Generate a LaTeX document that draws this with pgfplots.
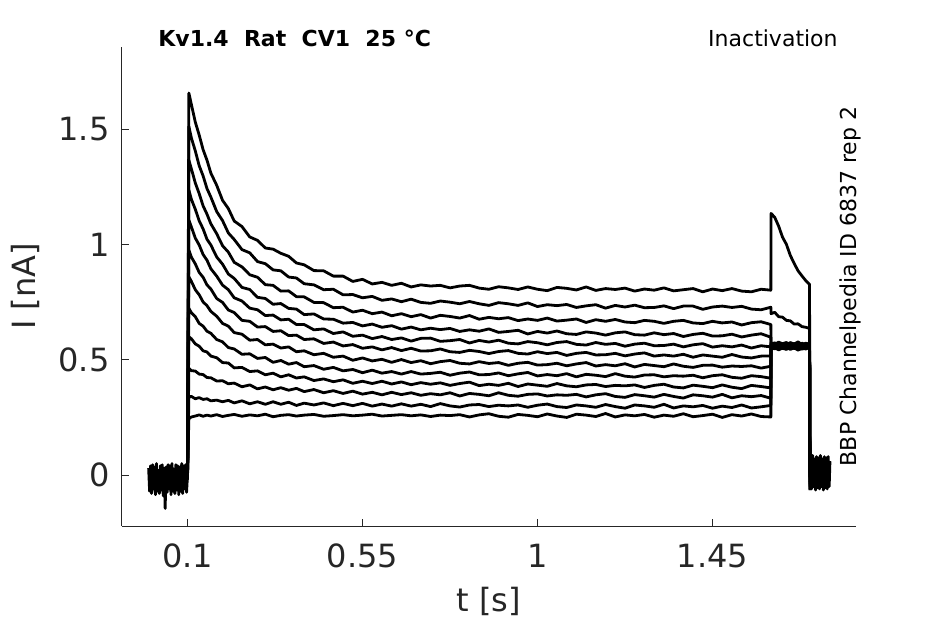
\documentclass[border=0pt]{standalone}
\usepackage{fontspec}
\setmainfont{DejaVu Sans}
\usepackage{pgfplots}
\usepackage{pgfplotstable}
\pgfplotsset{compat=1.18}
\definecolor{axgray}{HTML}{262626}
\pgfplotsset{tr/.style={black, mark=none, line width=1.4pt, line join=round}}

\pgfplotstableread{
t y1 y2 y3 y4 y5 y6 y7 y8 y9 y10 y11 y12
0.1000 0.010 -0.020 0.000 0.020 -0.010 0.000 0.010 -0.020 0.020 0.000 -0.010 0.010
0.1035 1.657 1.512 1.366 1.236 1.106 0.976 0.860 0.723 0.600 0.463 0.340 0.245
0.110 1.607 1.462 1.328 1.196 1.076 0.945 0.840 0.704 0.591 0.453 0.341 0.252
0.120 1.531 1.406 1.267 1.153 1.028 0.916 0.804 0.687 0.569 0.451 0.331 0.256
0.130 1.475 1.342 1.221 1.103 0.998 0.879 0.782 0.658 0.559 0.438 0.336 0.261
0.140 1.412 1.298 1.168 1.068 0.957 0.858 0.751 0.646 0.539 0.436 0.328 0.255
0.150 1.366 1.243 1.132 1.023 0.932 0.825 0.735 0.624 0.534 0.423 0.331 0.260
0.160 1.310 1.206 1.090 0.998 0.895 0.807 0.710 0.615 0.516 0.422 0.322 0.256
0.175 1.257 1.143 1.047 0.946 0.863 0.766 0.689 0.588 0.509 0.408 0.325 0.262
0.190 1.192 1.104 0.995 0.915 0.824 0.749 0.658 0.578 0.488 0.409 0.318 0.254
0.205 1.156 1.050 0.967 0.872 0.804 0.716 0.646 0.553 0.486 0.396 0.324 0.259
0.220 1.102 1.022 0.923 0.853 0.769 0.705 0.618 0.547 0.465 0.399 0.313 0.263
0.240 1.078 0.978 0.903 0.814 0.755 0.671 0.611 0.524 0.467 0.383 0.322 0.255
0.260 1.033 0.964 0.869 0.805 0.724 0.667 0.585 0.526 0.449 0.391 0.309 0.261
0.280 1.018 0.926 0.858 0.771 0.717 0.642 0.588 0.506 0.452 0.374 0.318 0.257
0.300 0.985 0.917 0.826 0.766 0.692 0.644 0.565 0.510 0.435 0.382 0.307 0.264
0.320 0.980 0.890 0.823 0.741 0.694 0.623 0.568 0.489 0.442 0.370 0.318 0.253
0.340 0.962 0.886 0.798 0.744 0.673 0.626 0.551 0.497 0.426 0.379 0.307 0.259
0.360 0.949 0.859 0.799 0.723 0.676 0.605 0.556 0.481 0.435 0.368 0.316 0.262
0.380 0.920 0.855 0.774 0.720 0.653 0.607 0.535 0.488 0.421 0.376 0.302 0.256
0.400 0.912 0.830 0.773 0.696 0.653 0.588 0.539 0.470 0.426 0.362 0.312 0.260
0.425 0.887 0.825 0.749 0.699 0.630 0.591 0.522 0.475 0.410 0.371 0.304 0.263
0.450 0.886 0.804 0.748 0.677 0.634 0.571 0.528 0.459 0.417 0.357 0.313 0.255
0.475 0.863 0.806 0.726 0.676 0.614 0.577 0.511 0.467 0.405 0.366 0.301 0.258
0.500 0.863 0.782 0.728 0.659 0.621 0.560 0.516 0.452 0.413 0.354 0.311 0.262
0.525 0.840 0.783 0.707 0.662 0.602 0.566 0.498 0.458 0.398 0.364 0.301 0.257
0.550 0.849 0.769 0.715 0.647 0.607 0.550 0.508 0.444 0.407 0.351 0.311 0.260
0.575 0.829 0.775 0.700 0.655 0.592 0.556 0.495 0.455 0.397 0.359 0.299 0.264
0.600 0.836 0.758 0.707 0.641 0.601 0.543 0.502 0.442 0.407 0.348 0.308 0.256
0.625 0.823 0.764 0.691 0.648 0.588 0.553 0.489 0.449 0.395 0.359 0.299 0.259
0.650 0.832 0.752 0.700 0.633 0.595 0.540 0.501 0.438 0.404 0.349 0.309 0.262
0.675 0.816 0.763 0.687 0.642 0.581 0.550 0.488 0.449 0.392 0.357 0.299 0.257
0.700 0.825 0.749 0.696 0.630 0.593 0.538 0.496 0.438 0.401 0.346 0.307 0.261
0.725 0.820 0.745 0.681 0.637 0.594 0.539 0.483 0.441 0.394 0.353 0.297 0.254
0.750 0.823 0.755 0.693 0.631 0.580 0.547 0.492 0.446 0.400 0.348 0.310 0.260
0.775 0.812 0.750 0.688 0.636 0.583 0.535 0.497 0.433 0.389 0.357 0.300 0.258
0.800 0.820 0.743 0.681 0.623 0.588 0.532 0.485 0.442 0.397 0.343 0.295 0.262
0.825 0.823 0.753 0.692 0.630 0.573 0.541 0.482 0.447 0.403 0.354 0.304 0.252
0.850 0.811 0.743 0.676 0.624 0.584 0.536 0.492 0.435 0.388 0.350 0.306 0.261
0.875 0.806 0.736 0.684 0.634 0.577 0.527 0.484 0.436 0.394 0.344 0.297 0.266
0.900 0.817 0.748 0.678 0.619 0.585 0.536 0.488 0.443 0.389 0.357 0.303 0.255
0.925 0.812 0.743 0.683 0.623 0.572 0.540 0.476 0.431 0.398 0.346 0.300 0.251
0.950 0.805 0.736 0.670 0.628 0.569 0.528 0.485 0.439 0.384 0.342 0.304 0.263
0.975 0.816 0.747 0.677 0.612 0.579 0.525 0.489 0.445 0.395 0.350 0.294 0.259
1.000 0.806 0.731 0.671 0.623 0.574 0.535 0.477 0.430 0.390 0.352 0.303 0.253
1.025 0.800 0.739 0.681 0.616 0.565 0.527 0.479 0.436 0.385 0.343 0.308 0.265
1.050 0.814 0.735 0.668 0.625 0.575 0.532 0.485 0.431 0.397 0.348 0.297 0.256
1.075 0.810 0.740 0.672 0.613 0.579 0.519 0.474 0.440 0.387 0.346 0.293 0.250
1.100 0.803 0.727 0.677 0.610 0.567 0.528 0.482 0.426 0.383 0.350 0.304 0.264
1.125 0.816 0.734 0.662 0.621 0.564 0.532 0.488 0.437 0.391 0.339 0.300 0.260
1.150 0.801 0.739 0.674 0.616 0.575 0.521 0.473 0.433 0.393 0.348 0.294 0.254
1.175 0.809 0.724 0.667 0.607 0.567 0.522 0.479 0.427 0.384 0.353 0.306 0.267
1.200 0.805 0.736 0.675 0.617 0.571 0.528 0.474 0.440 0.389 0.341 0.297 0.252
1.225 0.811 0.729 0.664 0.621 0.559 0.517 0.483 0.429 0.387 0.337 0.290 0.261
1.250 0.798 0.737 0.661 0.609 0.568 0.525 0.469 0.425 0.391 0.349 0.304 0.257
1.275 0.807 0.726 0.671 0.607 0.572 0.530 0.480 0.434 0.380 0.344 0.300 0.263
1.300 0.802 0.727 0.667 0.617 0.561 0.516 0.475 0.435 0.389 0.338 0.294 0.251
1.325 0.812 0.734 0.658 0.609 0.562 0.521 0.470 0.426 0.394 0.350 0.307 0.260
1.350 0.799 0.722 0.667 0.614 0.568 0.516 0.482 0.431 0.382 0.341 0.291 0.255
1.375 0.804 0.733 0.671 0.601 0.556 0.524 0.472 0.429 0.378 0.334 0.300 0.266
1.400 0.809 0.733 0.660 0.610 0.565 0.511 0.467 0.433 0.390 0.348 0.296 0.253
1.425 0.795 0.719 0.657 0.615 0.570 0.521 0.476 0.422 0.385 0.344 0.302 0.258
1.450 0.807 0.729 0.667 0.603 0.555 0.516 0.477 0.431 0.379 0.338 0.290 0.264
1.475 0.800 0.733 0.660 0.604 0.561 0.511 0.468 0.435 0.391 0.350 0.299 0.250
1.500 0.809 0.727 0.664 0.611 0.556 0.523 0.473 0.424 0.381 0.335 0.293 0.262
1.525 0.798 0.732 0.651 0.599 0.564 0.512 0.471 0.420 0.375 0.344 0.304 0.256
1.550 0.795 0.720 0.661 0.607 0.551 0.508 0.474 0.431 0.389 0.340 0.291 0.265
1.575 0.806 0.717 0.665 0.613 0.561 0.516 0.464 0.427 0.384 0.345 0.296 0.254
1.600 0.802 0.728 0.653 0.598 0.556 0.517 0.472 0.420 0.378 0.333 0.302 0.252
1.6005 1.135 0.700 0.566 0.555 0.560 0.552 0.574 0.546 0.563 0.568 0.551 0.565
1.610 1.118 0.706 0.574 0.547 0.568 0.561 0.566 0.553 0.556 0.561 0.559 0.557
1.620 1.080 0.687 0.561 0.558 0.557 0.554 0.577 0.543 0.565 0.570 0.548 0.563
1.630 1.032 0.685 0.570 0.550 0.566 0.549 0.569 0.551 0.559 0.563 0.557 0.568
1.640 1.001 0.671 0.575 0.545 0.559 0.562 0.563 0.556 0.552 0.571 0.550 0.555
1.650 0.953 0.669 0.563 0.556 0.570 0.553 0.575 0.545 0.566 0.559 0.561 0.562
1.660 0.918 0.655 0.569 0.549 0.558 0.560 0.568 0.552 0.557 0.567 0.553 0.570
1.670 0.886 0.656 0.560 0.557 0.564 0.551 0.578 0.542 0.562 0.572 0.547 0.558
1.680 0.864 0.644 0.572 0.546 0.569 0.558 0.565 0.550 0.555 0.560 0.558 0.564
1.690 0.843 0.641 0.566 0.553 0.556 0.563 0.572 0.547 0.568 0.566 0.552 0.559
1.6995 0.827 0.636 0.571 0.550 0.562 0.555 0.567 0.554 0.558 0.569 0.556 0.560
1.7005 -0.065 -0.020 0.030 -0.040 0.050 -0.030 0.060 -0.050 0.020 -0.060 0.040 -0.010
}\pulse

\pgfplotstableread{
t y
0.0000 0.030
0.0025 -0.070
0.0050 0.040
0.0075 -0.080
0.0100 0.045
0.0125 -0.060
0.0150 0.035
0.0175 -0.085
0.0200 0.050
0.0225 -0.070
0.0250 0.020
0.0275 -0.080
0.0300 0.040
0.0325 -0.065
0.0350 0.045
0.0375 -0.090
0.0400 0.030
0.0425 -0.145
0.0450 0.035
0.0475 -0.075
0.0500 0.045
0.0525 -0.060
0.0550 0.040
0.0575 -0.085
0.0600 0.050
0.0625 -0.070
0.0650 0.025
0.0675 -0.080
0.0700 0.045
0.0725 -0.065
0.0750 0.040
0.0775 -0.085
0.0800 0.035
0.0825 -0.070
0.0850 0.050
0.0875 -0.080
0.0900 0.040
0.0925 -0.060
0.0950 0.045
0.0975 -0.075
0.1000 0.000
}\basea

\pgfplotstableread{
t y
1.7005 -0.065
1.7025 0.080
1.7050 -0.060
1.7075 0.085
1.7100 -0.050
1.7125 0.070
1.7150 -0.065
1.7175 0.080
1.7200 -0.055
1.7225 0.075
1.7250 -0.060
1.7275 0.085
1.7300 -0.050
1.7325 0.070
1.7350 -0.065
1.7375 0.080
1.7400 -0.055
1.7425 0.075
1.7450 -0.060
1.7475 0.080
1.7500 -0.050
1.7520 0.060
}\baseb

\begin{document}
\begin{tikzpicture}
\useasboundingbox (-61pt,-49pt) rectangle (411.5pt,263pt);
\begin{axis}[
  at={(0,0)}, anchor=south west,
  scale only axis, width=367pt, height=239.5pt,
  xmin=-0.0685, xmax=1.819, ymin=-0.221, ymax=1.857,
  axis x line*=bottom, axis y line*=left,
  axis line style={axgray, line width=0.5pt},
  xtick={0.1,0.55,1,1.45}, xticklabels={0.1,0.55,1,1.45},
  ytick={0,0.5,1,1.5}, yticklabels={0,0.5,1,1.5},
  tick align=inside, major tick length=3.7pt,
  tick style={axgray, line width=0.5pt},
  ticklabel style={font=\fontsize{16}{19}\selectfont, text=axgray},
  xticklabel style={yshift=-5.5pt},
  yticklabel style={xshift=-2.7pt},
  xlabel={t [s]}, ylabel={I [nA]},
  label style={font=\fontsize{16}{19}\selectfont, text=axgray},
  xlabel style={at={(axis description cs:0.5,-0.1795)}, anchor=base},
  ylabel style={at={(axis description cs:-0.1172,0.5)}, anchor=base},
  clip=false,
]
\addplot[tr] table[x=t,y=y] {\basea};
\addplot[tr] table[x=t,y=y1] {\pulse};
\addplot[tr] table[x=t,y=y2] {\pulse};
\addplot[tr] table[x=t,y=y3] {\pulse};
\addplot[tr] table[x=t,y=y4] {\pulse};
\addplot[tr] table[x=t,y=y5] {\pulse};
\addplot[tr] table[x=t,y=y6] {\pulse};
\addplot[tr] table[x=t,y=y7] {\pulse};
\addplot[tr] table[x=t,y=y8] {\pulse};
\addplot[tr] table[x=t,y=y9] {\pulse};
\addplot[tr] table[x=t,y=y10] {\pulse};
\addplot[tr] table[x=t,y=y11] {\pulse};
\addplot[tr] table[x=t,y=y12] {\pulse};
\addplot[tr] table[x=t,y=y] {\baseb};
\node[anchor=base west, inner sep=0pt, font=\fontsize{11}{13}\selectfont\bfseries] at (rel axis cs:0.049,1) {Kv1.4\ \ Rat\ \ CV1\ \ 25 °C};
\node[anchor=base east, inner sep=0pt, font=\fontsize{11}{13}\selectfont] at (rel axis cs:0.9755,1) {Inactivation};
\node[rotate=90, anchor=center, font=\fontsize{11}{13}\selectfont] at (rel axis cs:0.992,0.5) {BBP Channelpedia ID 6837 rep 2};
\end{axis}
\end{tikzpicture}
\end{document}
